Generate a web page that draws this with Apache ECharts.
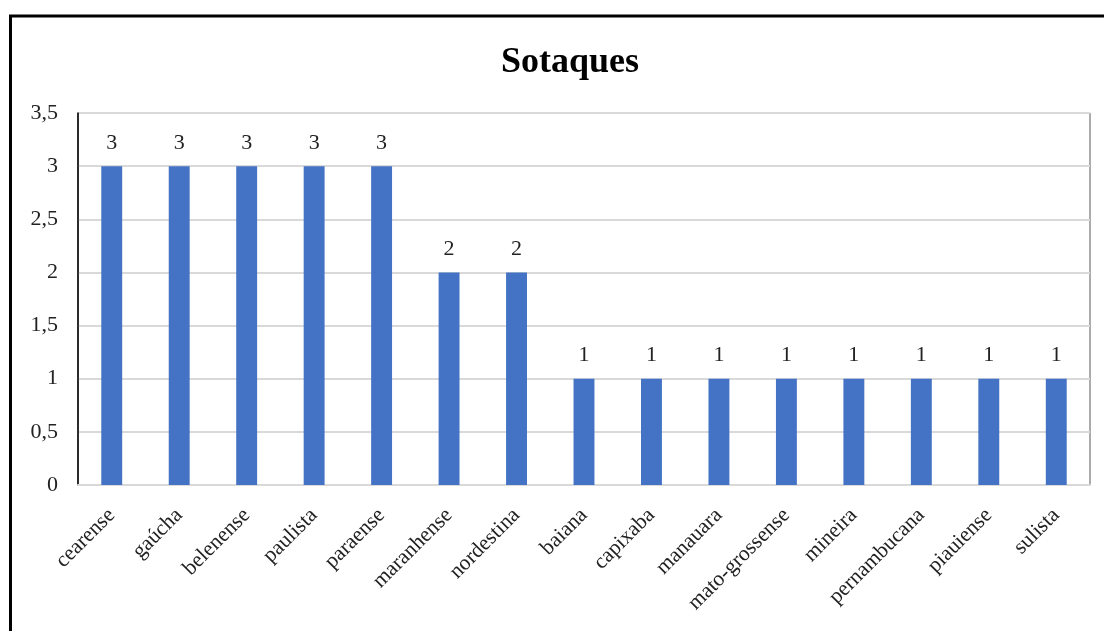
<!DOCTYPE html>
<html>
<head>
<meta charset="utf-8">
<script src="https://cdn.jsdelivr.net/npm/echarts@6/dist/echarts.min.js"></script>
<style>
  html, body { margin: 0; padding: 0; background: #fff; }
  #chart { width: 1104px; height: 631px; }
</style>
</head>
<body>
<div id="chart"></div>
<script>
var categories = ['cearense', 'gaúcha', 'belenense', 'paulista', 'paraense', 'maranhense', 'nordestina',
  'baiana', 'capixaba', 'manauara', 'mato-grossense', 'mineira', 'pernambucana', 'piauiense', 'sulista'];
var counts = [3, 3, 3, 3, 3, 2, 2, 1, 1, 1, 1, 1, 1, 1, 1];
var yTicks = [0, 0.5, 1, 1.5, 2, 2.5, 3, 3.5];

var serif = '"Liberation Serif", "DejaVu Serif", serif';
var chart = echarts.init(document.getElementById('chart'));

var option = {
  animation: false,
  backgroundColor: '#fff',
  title: {
    text: 'Sotaques',
    left: 565,
    textAlign: 'center',
    top: 40,
    textStyle: { fontFamily: serif, fontSize: 36, fontWeight: 'bold', color: '#000' }
  },
  // frame round the chart
  graphic: [{
    type: 'rect',
    shape: { x: 10.5, y: 16, width: 1110, height: 640 },
    style: { fill: null, stroke: '#000', lineWidth: 3 },
    silent: true
  }],
  grid: {
    left: 78, right: 14, top: 113, bottom: 146,
    show: true, borderColor: '#595959', borderWidth: 1
  },
  xAxis: {
    type: 'category',
    data: categories,
    axisLine: { show: true, lineStyle: { color: '#d9d9d9', width: 2 } },
    axisTick: { show: false },
    axisLabel: {
      interval: 0, rotate: 45, margin: 27,
      fontFamily: serif, fontSize: 21.5, color: '#222'
    }
  },
  yAxis: {
    type: 'value',
    min: yTicks[0], max: yTicks[yTicks.length - 1], interval: 0.5,
    axisLine: { show: true, lineStyle: { color: '#000', width: 1.5 } },
    axisTick: { show: false },
    splitLine: { lineStyle: { color: '#d9d9d9', width: 2 } },
    axisLabel: {
      margin: 20, fontFamily: serif, fontSize: 22, color: '#222',
      formatter: function (v) { return String(v).replace('.', ','); }
    }
  },
  series: [{
    type: 'bar',
    data: counts,
    barWidth: '31%',
    itemStyle: { color: '#4472C4' },
    label: {
      show: true, position: 'top', distance: 12,
      fontFamily: serif, fontSize: 22, color: '#222'
    }
  }]
};
chart.setOption(option);
</script>
</body>
</html>
